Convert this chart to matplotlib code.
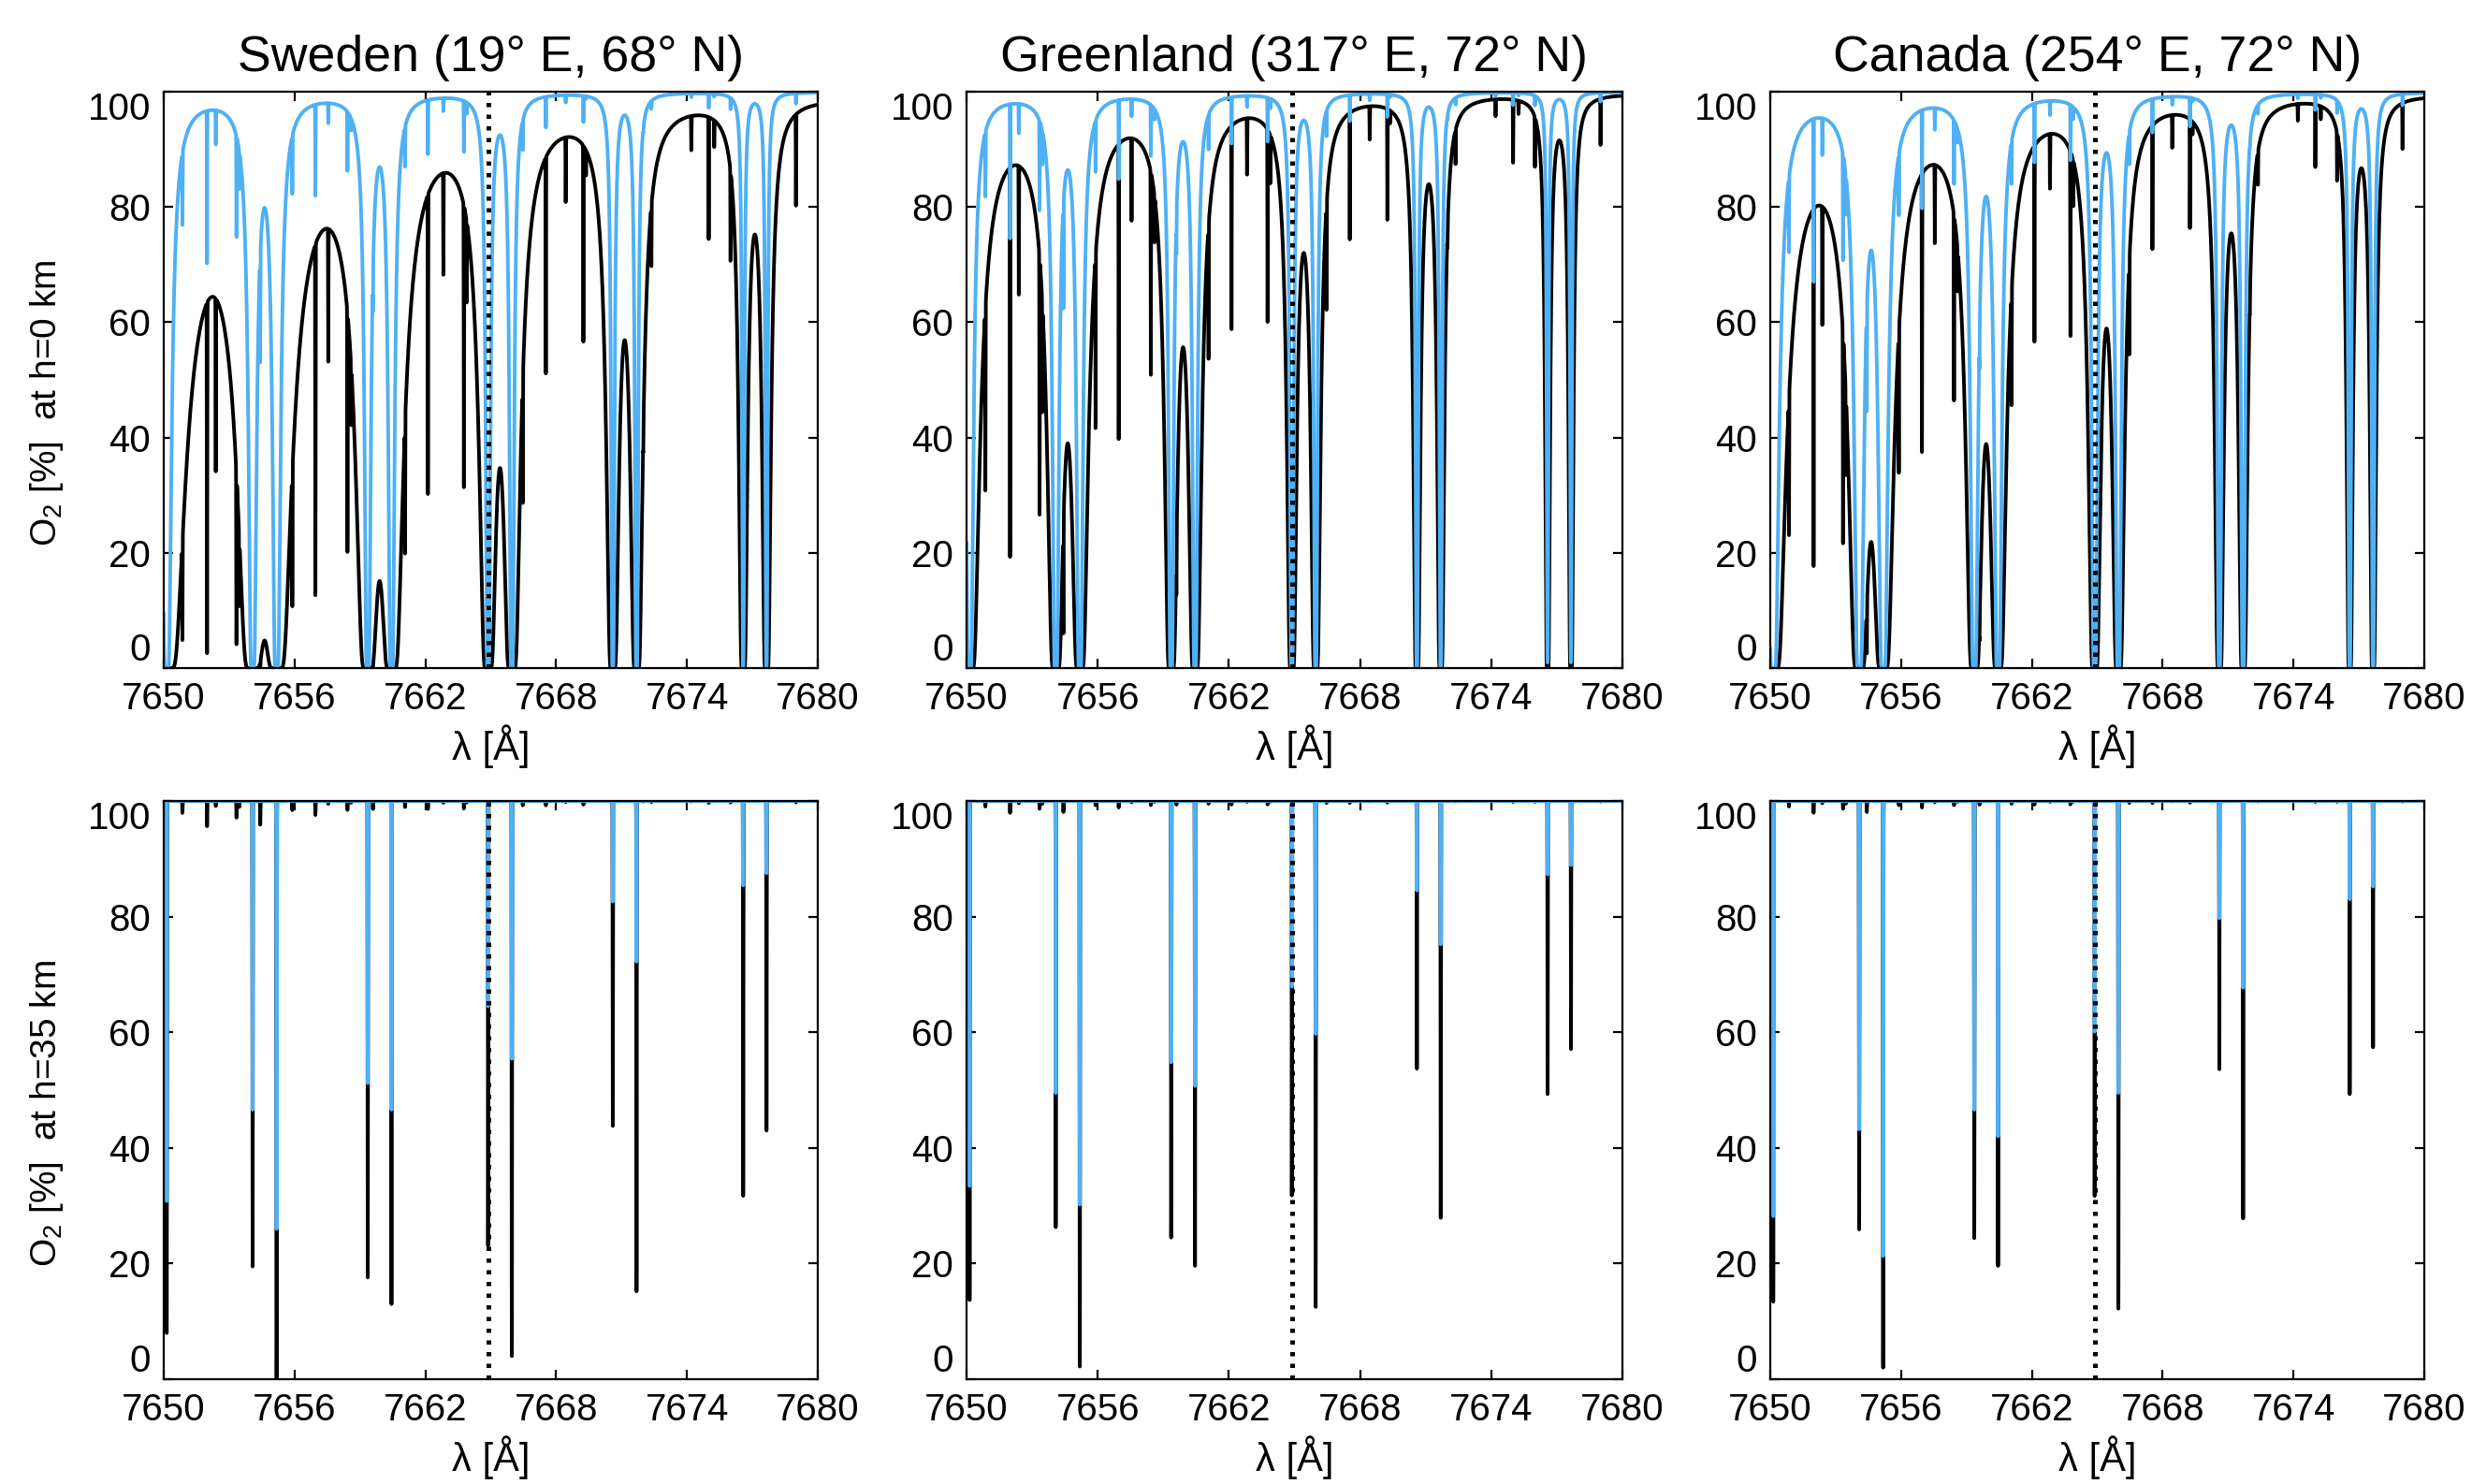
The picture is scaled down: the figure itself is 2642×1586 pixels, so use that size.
import numpy as np
import matplotlib
matplotlib.use("Agg")
import matplotlib.pyplot as plt
from matplotlib.transforms import ScaledTranslation

plt.rcParams["font.family"] = ["Liberation Sans", "DejaVu Sans"]
plt.rcParams["mathtext.fontset"] = "custom"
plt.rcParams["mathtext.rm"] = "Liberation Sans"
plt.rcParams["mathtext.it"] = "Liberation Sans:italic"

# --- data ---------------------------------------------------------------

sites = ["Sweden (19° E, 68° N)", "Greenland (317° E, 72° N)", "Canada (254° E, 72° N)"]
k_line = 7664.90  # dotted line (K I)

# strong O2 A-band lines [Å] and their wing strength (Sweden, h=0 km, black)
strong_center = [7644.24, 7645.34, 7649.04, 7650.14, 7654.08, 7655.18, 7659.36, 7660.45,
                 7664.88, 7665.97, 7670.60, 7671.69, 7676.58, 7677.65, 7682.77, 7683.87]
strong_wing = [1.2, 1.2, 0.62, 0.62, 0.445, 0.445, 0.271, 0.271,
               0.151, 0.151, 0.080, 0.080, 0.0386, 0.0386, 0.015, 0.015]

# weak lines [Å] and their optical depth (Sweden, h=0 km, black)
weak_center = [7650.86, 7651.99, 7652.39, 7653.34, 7653.47, 7654.43, 7655.90, 7656.96,
               7657.55, 7658.43, 7658.60, 7659.60, 7661.07, 7662.12, 7662.83, 7663.77,
               7663.90, 7666.47, 7667.53, 7668.44, 7669.25, 7669.37, 7672.00, 7672.37,
               7674.20, 7675.00, 7675.25, 7676.00, 7679.00]
weak_tau = [1.5, 3.2, 0.63, 2.1, 0.75, 3.0, 1.15, 1.76,
            0.36, 1.12, 0.22, 1.0, 0.76, 1.0, 0.23, 0.94,
            0.2, 0.55, 0.55, 0.13, 0.47, 0.05, 0.08, 0.14,
            0.064, 0.25, 0.05, 0.2, 0.18]

# h = 0 km: scaling of the line strengths per site
strong_scale_black = [1.0, 0.31, 0.50]
strong_scale_blue = [0.074, 0.048, 0.106]
weak_scale_black = [1.0, 0.47, 0.47]
weak_scale_blue = [0.10, 0.085, 0.11]

# h = 35 km: line-core minima [%] of the 11 lines inside the window
core_center = [7650.14, 7654.08, 7655.18, 7659.36, 7660.45, 7664.88,
               7665.97, 7670.60, 7671.69, 7676.58, 7677.65]
core_black = [
    [8.0, 19.5, 0.0, 17.6, 13.0, 23.1, 4.0, 43.8, 15.2, 31.7, 43.0],
    [13.7, 26.3, 2.2, 24.5, 19.6, 31.8, 12.5, 53.7, 27.9, 49.3, 57.1],
    [13.4, 25.9, 2.0, 24.4, 19.6, 31.7, 12.2, 53.6, 27.8, 49.3, 57.4],
]
core_blue = [
    [30.8, 46.6, 26.0, 51.2, 46.6, 64.5, 55.4, 82.6, 72.2, 85.4, 87.5],
    [33.4, 49.5, 30.2, 54.8, 50.7, 67.9, 59.7, 84.5, 75.2, 87.3, 88.9],
    [28.2, 43.2, 21.3, 46.6, 42.0, 60.1, 49.5, 79.7, 67.7, 83.0, 85.2],
]
weak_scale_35 = [0.014, 0.0065, 0.0065]

xticks = [7650, 7656, 7662, 7668, 7674, 7680]
yticks = [0, 20, 40, 60, 80, 100]
ylabels = ["O$_2$ [%]  at h=0 km", "O$_2$ [%]  at h=35 km"]

BLUE = "#4fb0f4"
LW = 1.4
lam = np.linspace(7650, 7680, 15001)
core_w = 0.02
narrow_w = 0.01


def spectrum_ground(s_scale, w_scale):
    tau = np.zeros_like(lam)
    for c, w in zip(strong_center, strong_wing):
        tau += s_scale * w / ((lam - c) ** 2 + core_w ** 2)
    for c, t in zip(weak_center, weak_tau):
        tau += w_scale * t * np.exp(-((lam - c) / narrow_w) ** 2)
    return 100 * np.exp(-tau)


def spectrum_35(minima, w_scale):
    tau = np.zeros_like(lam)
    for c, m in zip(core_center, minima):
        tau += -np.log(max(m, 0.05) / 100) * np.exp(-((lam - c) / narrow_w) ** 2)
    for c, t in zip(weak_center, weak_tau):
        tau += w_scale * t * np.exp(-((lam - c) / narrow_w) ** 2)
    return 100 * np.exp(-tau)


fig = plt.figure(figsize=(13.21, 7.93), dpi=200)
lefts = [0.0662, 0.391, 0.7161]
widths = [0.2646, 0.2653, 0.2646]
bottoms = [0.5498, 0.0706]
heights = [0.3884, 0.3897]

for row in range(2):
    for i in range(3):
        ax = fig.add_axes([lefts[i], bottoms[row], widths[i], heights[row]])
        if row == 0:
            black = spectrum_ground(strong_scale_black[i], weak_scale_black[i])
            blue = spectrum_ground(strong_scale_blue[i], weak_scale_blue[i])
        else:
            black = spectrum_35(core_black[i], weak_scale_35[i])
            blue = spectrum_35(core_blue[i], 0.0)
        ax.plot(lam, black, color="black", lw=LW)
        ax.plot(lam, blue, color=BLUE, lw=LW)
        ax.axvline(k_line, color="black", lw=1.8, ls=(0, (0.9, 1.6)))

        ax.set_xlim(7650, 7680)
        ax.set_ylim(0, 100)
        ax.set_xticks(xticks)
        ax.set_xticklabels([str(t) for t in xticks])
        ax.set_yticks(yticks)
        labs = ax.set_yticklabels([str(t) for t in yticks])
        # end labels sit inside the axis range, as in the original
        labs[0].set_va("bottom")
        labs[0].set_transform(labs[0].get_transform()
                              + ScaledTranslation(0, -2.4 / 72, fig.dpi_scale_trans))
        labs[-1].set_va("top")
        labs[-1].set_transform(labs[-1].get_transform()
                               + ScaledTranslation(0, 3 / 72, fig.dpi_scale_trans))
        ax.tick_params(direction="in", top=True, right=True, length=3.6,
                       width=0.8, labelsize=14.5, pad=5)
        for sp in ax.spines.values():
            sp.set_linewidth(0.8)
        ax.set_xlabel("λ [Å]", fontsize=15, labelpad=3)
        if i == 0:
            ax.set_ylabel(ylabels[row], fontsize=14)
            ax.yaxis.set_label_coords(-0.15, 0.46)
        if row == 0:
            ax.set_title(sites[i], fontsize=19.3, pad=8)

fig.savefig("out.png", dpi=200)
